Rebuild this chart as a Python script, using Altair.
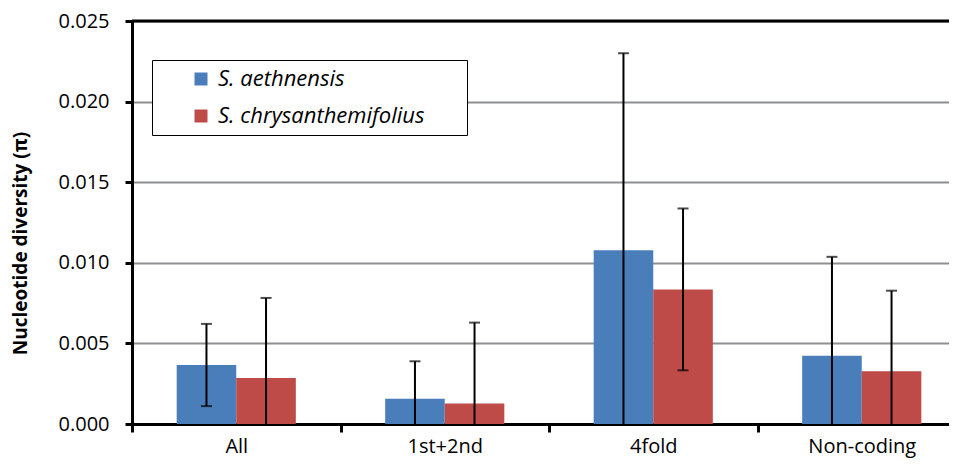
import altair as alt
import pandas as pd

categories = ["All", "1st+2nd", "4fold", "Non-coding"]
series = ["S. aethnensis", "S. chrysanthemifolius"]
aeth = [0.00366, 0.00156, 0.01078, 0.00423]
aeth_err = [0.00255, 0.00233, 0.01222, 0.00614]
chrys = [0.00285, 0.00127, 0.00835, 0.00327]
chrys_err = [0.00497, 0.00502, 0.00502, 0.00500]
y_ticks = [0.0, 0.005, 0.010, 0.015, 0.020, 0.025]

rows = []
for name, vals, errs in [(series[0], aeth, aeth_err), (series[1], chrys, chrys_err)]:
    for c, v, e in zip(categories, vals, errs):
        rows.append({"cat": c, "series": name, "value": v,
                     "low": max(0.0, v - e), "high": v + e,
                     "lowcap": v - e > 0})
df = pd.DataFrame(rows)

FONT = "Open Sans"
blue = "#4a7ebb"
red = "#be4b48"

W, H = 817, 403

x = alt.X("cat:N", sort=categories, title=None,
          scale=alt.Scale(paddingInner=0, paddingOuter=0, range=[0, 834]),
          axis=alt.Axis(labelFont=FONT, labelFontSize=20, labelColor="#000",
                        labelPadding=4, labelAngle=0,
                        tickBand="extent", tickSize=8, tickWidth=3, tickColor="#000",
                        domainColor="#000", domainWidth=3, grid=False))
xoff = alt.XOffset("series:N", sort=series,
                   scale=alt.Scale(paddingInner=0, paddingOuter=0.75))
yscale = alt.Scale(domain=[0, 0.025], nice=False)
yaxis = alt.Axis(values=y_ticks, format=".3f", labelFont=FONT, labelFontSize=20,
                 labelColor="#000", labelPadding=16, tickSize=7, tickWidth=3,
                 tickColor="#000", domainColor="#000", domainWidth=3,
                 grid=True, gridColor="#8e8f91", gridWidth=2,
                 title="Nucleotide diversity (π)", titleFont=FONT, titleFontSize=19,
                 titleFontWeight="bold", titleColor="#000", titleAngle=270,
                 titleX=-106, titleY=222, titleAlign="center", titleBaseline="alphabetic")

base = alt.Chart(df)

bars = base.mark_bar().encode(
    x=x, xOffset=xoff,
    y=alt.Y("value:Q", scale=yscale, axis=yaxis),
    color=alt.Color("series:N", sort=series,
                    scale=alt.Scale(domain=series, range=[blue, red]),
                    legend=alt.Legend(title="\u00a0", titleOrient="right", titleFontSize=2,
                                      titlePadding=34,
                                      orient="none", legendX=20, legendY=39,
                                      fillColor="#ffffff", strokeColor="#000000",
                                      padding=8, rowPadding=15,
                                      symbolType="square", symbolSize=169,
                                      symbolStrokeWidth=0, symbolOffset=30,
                                      labelFont=FONT, labelFontSize=22,
                                      labelFontStyle="italic", labelColor="#000",
                                      labelOffset=6, labelLimit=400)),
)

err = base.mark_rule(color="#000", strokeWidth=2).encode(
    x=x, xOffset=xoff, y=alt.Y("low:Q", scale=yscale), y2="high:Q")
cap_top = base.mark_tick(color="#000", thickness=2, size=11, orient="horizontal").encode(
    x=x, xOffset=xoff, y=alt.Y("high:Q", scale=yscale))
cap_bot = base.transform_filter("datum.lowcap").mark_tick(
    color="#000", thickness=2, size=11, orient="horizontal").encode(
    x=x, xOffset=xoff, y=alt.Y("low:Q", scale=yscale))
top = alt.Chart(pd.DataFrame({"t": [y_ticks[-1]]})).mark_rule(
    color="#000", strokeWidth=3).encode(y=alt.Y("t:Q", scale=yscale))

chart = alt.layer(bars, err, cap_top, cap_bot, top).properties(
    width=W, height=H,
    autosize=alt.AutoSizeParams(type="none"),
    padding={"left": 124, "top": 13, "right": 0, "bottom": 36},
).configure_view(fill="#d0d1d3", stroke=None).configure(background="#ffffff")

chart.save("out.html", embed_options={"renderer": "svg", "actions": False})
